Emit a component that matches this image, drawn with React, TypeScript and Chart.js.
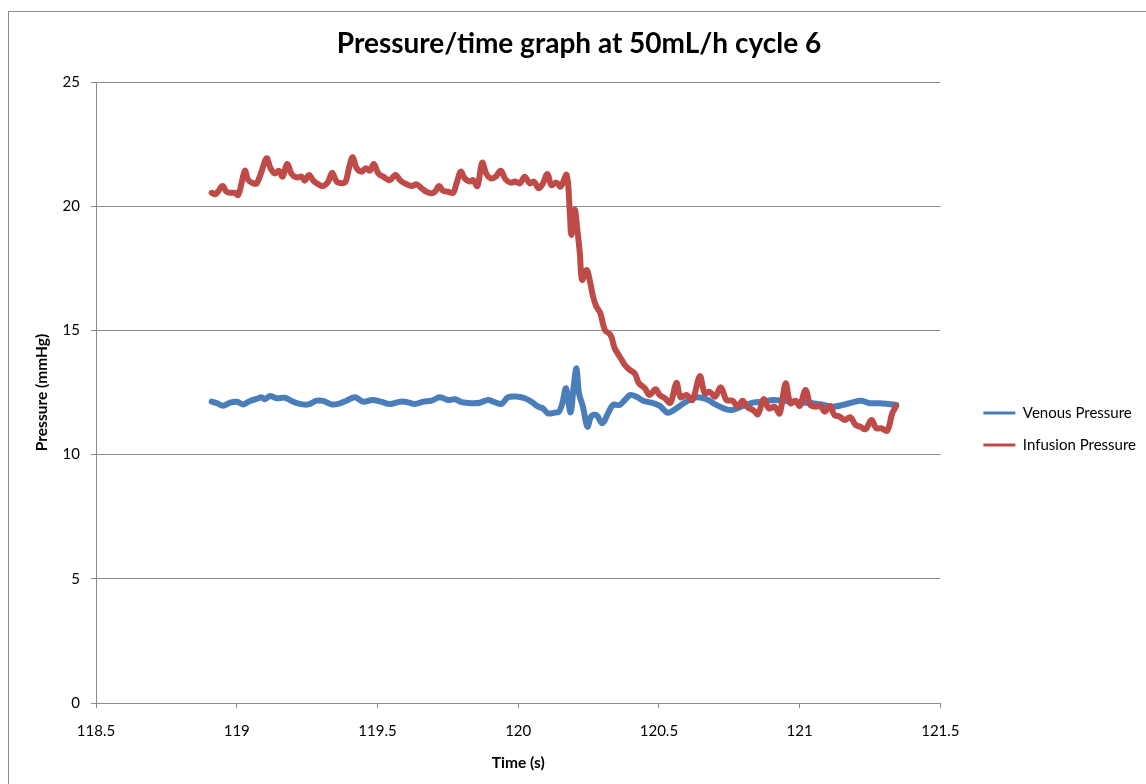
import React, { useEffect, useRef } from 'react';
import { Chart, registerables } from 'chart.js';

Chart.register(...registerables);

const chartTitle = 'Pressure/time graph at 50mL/h cycle 6';
const xAxisTitle = 'Time (s)';
const yAxisTitle = 'Pressure (mmHg)';
const seriesNames = ['Venous Pressure', 'Infusion Pressure'];
const seriesColors = ['#4A7EBB', '#BE4B48'];
const xRange = [118.5, 121.5];
const xStep = 0.5;
const yRange = [0, 25];
const yStep = 5;

const venousTime = [
  118.911, 118.929, 118.952, 118.976, 119.0, 119.023, 119.047, 119.071, 119.088, 119.1,
  119.118, 119.142, 119.171, 119.195, 119.224, 119.254, 119.284, 119.307, 119.337, 119.36,
  119.39, 119.42, 119.449, 119.483, 119.515, 119.544, 119.58, 119.603, 119.633, 119.662,
  119.692, 119.722, 119.751, 119.775, 119.799, 119.834, 119.864, 119.893, 119.917, 119.941,
  119.964, 120.0, 120.023, 120.047, 120.071, 120.088, 120.106, 120.13, 120.145, 120.157,
  120.17, 120.186, 120.197, 120.207, 120.216, 120.23, 120.246, 120.26, 120.278, 120.299,
  120.319, 120.337, 120.361, 120.379, 120.399, 120.42, 120.444, 120.473, 120.503, 120.53,
  120.55, 120.574, 120.598, 120.633, 120.669, 120.704, 120.74, 120.763, 120.799, 120.834,
  120.87, 120.905, 120.941, 120.976, 121.012, 121.047, 121.083, 121.118, 121.154, 121.184,
  121.219, 121.249, 121.284, 121.314, 121.343,
];
const venousValues = [
  12.13, 12.07, 11.97, 12.09, 12.13, 12.02, 12.16, 12.24, 12.31, 12.23,
  12.36, 12.27, 12.29, 12.16, 12.04, 12.02, 12.17, 12.16, 12.02, 12.04,
  12.17, 12.31, 12.13, 12.2, 12.12, 12.04, 12.13, 12.12, 12.04, 12.13,
  12.17, 12.31, 12.2, 12.23, 12.11, 12.07, 12.09, 12.2, 12.11, 12.04,
  12.31, 12.33, 12.27, 12.13, 11.93, 11.86, 11.66, 11.69, 11.73, 12.07,
  12.67, 11.7, 12.73, 13.47, 12.47, 11.93, 11.12, 11.55, 11.59, 11.26,
  11.66, 12.0, 12.0, 12.2, 12.4, 12.33, 12.17, 12.09, 11.96, 11.69,
  11.77, 11.96, 12.13, 12.31, 12.23, 12.0, 11.82, 11.8, 11.96, 12.09,
  12.13, 12.2, 12.17, 12.13, 12.09, 12.07, 12.0, 11.93, 12.0, 12.09,
  12.17, 12.07, 12.07, 12.04, 12.0,
];

const infusionTime = [
  118.911, 118.923, 118.933, 118.95, 118.964, 118.978, 118.994, 119.005, 119.017, 119.029,
  119.041, 119.059, 119.071, 119.086, 119.106, 119.12, 119.136, 119.15, 119.163, 119.179,
  119.195, 119.213, 119.23, 119.242, 119.257, 119.272, 119.289, 119.307, 119.325, 119.339,
  119.355, 119.373, 119.387, 119.4, 119.412, 119.426, 119.444, 119.459, 119.473, 119.487,
  119.503, 119.52, 119.544, 119.564, 119.58, 119.597, 119.621, 119.639, 119.657, 119.674,
  119.692, 119.704, 119.719, 119.733, 119.751, 119.769, 119.781, 119.796, 119.81, 119.828,
  119.84, 119.855, 119.872, 119.887, 119.903, 119.92, 119.938, 119.955, 119.974, 119.99,
  120.006, 120.023, 120.041, 120.056, 120.073, 120.088, 120.104, 120.118, 120.136, 120.151,
  120.172, 120.183, 120.189, 120.201, 120.209, 120.219, 120.227, 120.243, 120.254, 120.266,
  120.278, 120.292, 120.308, 120.328, 120.343, 120.361, 120.379, 120.396, 120.414, 120.429,
  120.45, 120.467, 120.488, 120.503, 120.521, 120.541, 120.562, 120.577, 120.598, 120.619,
  120.645, 120.663, 120.68, 120.699, 120.72, 120.74, 120.761, 120.781, 120.797, 120.816,
  120.834, 120.852, 120.872, 120.891, 120.911, 120.929, 120.95, 120.967, 120.986, 121.0,
  121.021, 121.038, 121.057, 121.074, 121.089, 121.107, 121.124, 121.142, 121.16, 121.18,
  121.199, 121.216, 121.234, 121.255, 121.272, 121.29, 121.311, 121.329, 121.343,
];
const infusionValues = [
  20.54, 20.48, 20.58, 20.81, 20.58, 20.54, 20.54, 20.45, 20.92, 21.43,
  21.05, 20.92, 20.92, 21.32, 21.93, 21.53, 21.32, 21.43, 21.19, 21.7,
  21.3, 21.16, 21.19, 21.03, 21.26, 21.03, 20.89, 20.81, 20.99, 21.35,
  20.99, 20.92, 20.99, 21.59, 21.97, 21.53, 21.39, 21.53, 21.43, 21.7,
  21.32, 21.19, 21.05, 21.26, 21.05, 20.92, 20.81, 20.88, 20.72, 20.58,
  20.52, 20.58, 20.81, 20.62, 20.58, 20.54, 20.92, 21.39, 21.12, 20.99,
  21.05, 20.81, 21.75, 21.3, 21.12, 21.19, 21.43, 21.08, 20.95, 20.99,
  20.92, 21.19, 20.92, 20.99, 20.72, 20.92, 21.3, 20.85, 20.95, 20.79,
  21.26, 19.85, 18.84, 19.85, 19.17, 18.12, 17.03, 17.43, 17.03, 16.36,
  15.95, 15.69, 15.02, 14.82, 14.28, 13.94, 13.61, 13.41, 13.27, 12.87,
  12.67, 12.4, 12.63, 12.4, 12.27, 12.09, 12.89, 12.31, 12.4, 12.2,
  13.16, 12.47, 12.53, 12.33, 12.71, 12.2, 12.17, 11.93, 12.17, 11.9,
  11.8, 11.63, 12.23, 11.86, 11.93, 11.66, 12.87, 12.07, 12.17, 11.96,
  12.6, 12.0, 11.93, 11.96, 11.73, 11.96, 11.59, 11.53, 11.39, 11.5,
  11.19, 11.12, 11.02, 11.39, 11.06, 11.06, 10.96, 11.66, 11.96,
];

const FONT = 'Lato';
const GRID = '#8c8c8c';
const TEXT = '#000000';

export default function App() {
  const canvasRef = useRef<HTMLCanvasElement | null>(null);

  useEffect(() => {
    const canvas = canvasRef.current;
    if (!canvas) return;
    const chart = new Chart(canvas, {
      type: 'line',
      data: {
        datasets: [
          {
            label: seriesNames[0],
            data: venousTime.map((t, i) => ({ x: t, y: venousValues[i] })),
            borderColor: seriesColors[0],
            backgroundColor: seriesColors[0],
            borderWidth: 6,
            pointRadius: 0,
            tension: 0.35,
            fill: false,
            borderCapStyle: 'round',
            borderJoinStyle: 'round',
            order: 1,
          },
          {
            label: seriesNames[1],
            data: infusionTime.map((t, i) => ({ x: t, y: infusionValues[i] })),
            borderColor: seriesColors[1],
            backgroundColor: seriesColors[1],
            borderWidth: 6,
            pointRadius: 0,
            tension: 0.35,
            fill: false,
            borderCapStyle: 'round',
            borderJoinStyle: 'round',
            order: 0,
          },
        ],
      },
      options: {
        responsive: false,
        animation: false,
        devicePixelRatio: 1,
        layout: { padding: { left: 3, right: 0, top: 0, bottom: 0 } },
        plugins: {
          title: {
            display: true,
            text: chartTitle,
            color: TEXT,
            font: { family: FONT, size: 28, weight: 'bold' },
            padding: { top: 15.6, bottom: 20.8 },
          },
          legend: {
            position: 'right',
            align: 'center',
            title: { display: true, text: '', font: { size: 10 }, padding: { top: 0, bottom: 50 } },
            labels: {
              boxWidth: 32,
              boxHeight: 3,
              padding: 17,
              color: TEXT,
              font: { family: FONT, size: 15 },
              generateLabels: (c: any) =>
                c.data.datasets.map((ds: any, i: number) => ({
                  text: ds.label,
                  fillStyle: ds.borderColor,
                  strokeStyle: ds.borderColor,
                  lineWidth: 0,
                  hidden: false,
                  datasetIndex: i,
                  fontColor: TEXT,
                })),
            },
          },
          tooltip: { enabled: false },
        },
        scales: {
          x: {
            type: 'linear',
            position: 'bottom',
            min: xRange[0],
            max: xRange[1],
            ticks: {
              stepSize: xStep,
              padding: 14,
              color: TEXT,
              font: { family: FONT, size: 15 },
              maxRotation: 0,
              autoSkip: false,
              callback: (v: any) => String(Number(v)),
            },
            grid: { drawOnChartArea: false, drawTicks: true, tickLength: 5, color: GRID },
            border: { display: true, color: GRID, width: 1 },
            title: {
              display: true,
              text: xAxisTitle,
              color: TEXT,
              font: { family: FONT, size: 15.5, weight: 'bold' },
              padding: { top: 0, bottom: 11.7 },
            },
            afterFit: (s: any) => {
              s.height = 81;
            },
          },
          y: {
            type: 'linear',
            position: 'left',
            min: yRange[0],
            max: yRange[1],
            ticks: {
              stepSize: yStep,
              padding: 11,
              color: TEXT,
              font: { family: FONT, size: 15 },
            },
            grid: { color: GRID, tickLength: 5 },
            border: { display: true, color: GRID, width: 1 },
            title: {
              display: true,
              text: yAxisTitle,
              color: TEXT,
              font: { family: FONT, size: 15.5, weight: 'bold' },
              padding: { top: 20.7, bottom: 0 },
            },
            afterFit: (s: any) => {
              s.width = 84;
            },
          },
          y2: {
            type: 'linear',
            position: 'right',
            display: true,
            grid: { display: false },
            ticks: { display: false },
            border: { display: false },
            afterFit: (s: any) => {
              s.width = 26;
            },
          },
        },
      } as any,
    });
    return () => chart.destroy();
  }, []);

  return (
    <div
      style={{
        position: 'fixed',
        left: 8,
        top: 11,
        width: 1200,
        height: 850,
        border: '1px solid #8c8c8c',
        background: '#ffffff',
      }}
    >
      <canvas ref={canvasRef} width={1137} height={772} style={{ display: 'block', width: 1137, height: 772 }} />
    </div>
  );
}
